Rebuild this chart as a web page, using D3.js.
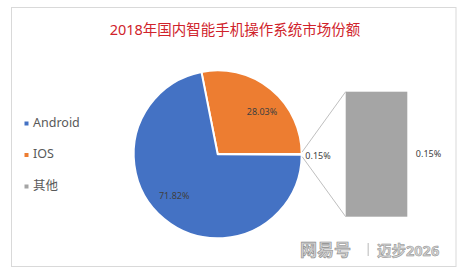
<!DOCTYPE html>
<html>
<head>
<meta charset="utf-8">
<script src="https://cdn.jsdelivr.net/npm/d3@7/dist/d3.min.js"></script>
<style>
  html, body { margin: 0; padding: 0; background: #fff; }
  svg { display: block; }
  text { font-family: "Noto Sans", "Noto Sans CJK SC", sans-serif; }
</style>
</head>
<body>
<svg id="chart" width="466" height="274"></svg>
<script>
// Market share of smartphone operating systems in China, 2018 (%)
const categories = ["Android", "IOS", "其他"];
const shares = [71.82, 28.03, 0.15];
const colors = ["#4472c4", "#ed7d31", "#a5a5a5"];
const titleText = "2018年国内智能手机操作系统市场份额";

const svg = d3.select("#chart");
const W = 466, H = 274;

// chart area frame
svg.append("rect")
  .attr("x", 11.5).attr("y", 7.5)
  .attr("width", 444.5).attr("height", 259)
  .attr("fill", "#fff").attr("stroke", "#d9d9d9").attr("stroke-width", 1);

// title
svg.append("text")
  .attr("x", 235).attr("y", 35)
  .attr("text-anchor", "middle")
  .attr("font-family", "'Noto Sans CJK SC', sans-serif")
  .attr("font-size", 14.5)
  .attr("fill", "#d0232b")
  .text(titleText);

// pie: slices clockwise IOS, 其他, Android, with 其他 centered at 3 o'clock
const pieData = [
  { name: categories[1], value: shares[1], color: colors[1] },
  { name: categories[2], value: shares[2], color: colors[2] },
  { name: categories[0], value: shares[0], color: colors[0] }
];
const total = d3.sum(shares);
const start = Math.PI / 2 - ((shares[1] + shares[2] / 2) / total) * 2 * Math.PI;
const pie = d3.pie().value(d => d.value).sort(null)
  .startAngle(start).endAngle(start + 2 * Math.PI);
const arcs = pie(pieData);

const cx = 217.7, cy = 154.3, r = 84;
const arc = d3.arc().innerRadius(0).outerRadius(r);
const g = svg.append("g").attr("transform", `translate(${cx},${cy})`);

g.selectAll("path").data(arcs).join("path")
  .attr("d", arc)
  .attr("fill", d => d.data.color)
  .attr("stroke", "#fff")
  .attr("stroke-width", 2)
  .attr("stroke-linejoin", "round");

// percentage labels inside the two large slices
const fmt = v => v.toFixed(2) + "%";
const labelArc = d3.arc().innerRadius(r * 0.72).outerRadius(r * 0.72);
arcs.filter(d => d.data.name !== categories[2]).forEach(d => {
  let [lx, ly] = labelArc.centroid(d);
  const shift = d.data.name === categories[1] ? [6, 5] : [-5, -4];
  g.append("text")
    .attr("x", lx + shift[0]).attr("y", ly + shift[1])
    .attr("text-anchor", "middle").attr("dominant-baseline", "middle")
    .attr("font-size", 9).attr("fill", "#404040")
    .text(fmt(d.data.value));
});

// the small 其他 slice, expanded into a bar on the right
const other = arcs.find(d => d.data.name === categories[2]);
const barX0 = 345.7, barW = 61.6, barTop = 91.7, barBottom = 216.7;
const yBar = d3.scaleLinear().domain([0, shares[2]]).range([barBottom, barTop]);

// connector lines from the slice edge to the bar corners
const edgeA = [cx + r * Math.sin(other.startAngle) + 0.5, cy - r * Math.cos(other.startAngle) - 2];
const edgeB = [cx + r * Math.sin(other.endAngle) + 0.5, cy - r * Math.cos(other.endAngle) + 2];
svg.append("line")
  .attr("x1", edgeA[0]).attr("y1", edgeA[1])
  .attr("x2", barX0).attr("y2", yBar(shares[2]))
  .attr("stroke", "#bfbfbf").attr("stroke-width", 1);
svg.append("line")
  .attr("x1", edgeB[0]).attr("y1", edgeB[1])
  .attr("x2", barX0).attr("y2", yBar(0))
  .attr("stroke", "#bfbfbf").attr("stroke-width", 1);

svg.append("rect")
  .attr("x", barX0).attr("y", yBar(shares[2]))
  .attr("width", barW).attr("height", yBar(0) - yBar(shares[2]))
  .attr("fill", colors[2]);

// label of the slice
svg.append("text")
  .attr("x", 318).attr("y", 157)
  .attr("text-anchor", "middle").attr("dominant-baseline", "middle")
  .attr("font-size", 9).attr("fill", "#404040")
  .text(fmt(shares[2]));

// label of the bar
svg.append("text")
  .attr("x", 428.5).attr("y", (yBar(0) + yBar(shares[2])) / 2 + 0.5)
  .attr("text-anchor", "middle").attr("dominant-baseline", "middle")
  .attr("font-size", 9).attr("fill", "#404040")
  .text(fmt(shares[2]));

// legend
const legendY = [123.5, 155, 186.5];
const legend = svg.append("g");
categories.forEach((c, i) => {
  legend.append("rect")
    .attr("x", 24.5).attr("y", legendY[i] - 2)
    .attr("width", 4).attr("height", 4)
    .attr("fill", colors[i]);
  legend.append("text")
    .attr("x", 33).attr("y", legendY[i])
    .attr("dominant-baseline", "middle")
    .attr("font-size", 12.5).attr("fill", "#595959")
    .text(c);
});

// source mark at the bottom right
const mark = svg.append("g").attr("font-family", "'Noto Sans CJK SC', sans-serif");
mark.append("text")
  .attr("x", 300).attr("y", 256)
  .attr("font-size", 17).attr("font-weight", "bold")
  .attr("fill", "#d4d4d4").attr("stroke", "#8c8c8c").attr("stroke-width", 0.6)
  .text("网易号");
mark.append("rect")
  .attr("x", 367.5).attr("y", 243).attr("width", 1.5).attr("height", 13)
  .attr("fill", "#d0d0d0");
mark.append("text")
  .attr("x", 377).attr("y", 256)
  .attr("font-size", 14.5).attr("font-weight", "bold")
  .attr("fill", "#d4d4d4").attr("stroke", "#8c8c8c").attr("stroke-width", 0.5)
  .text("迈步2026");
</script>
</body>
</html>
